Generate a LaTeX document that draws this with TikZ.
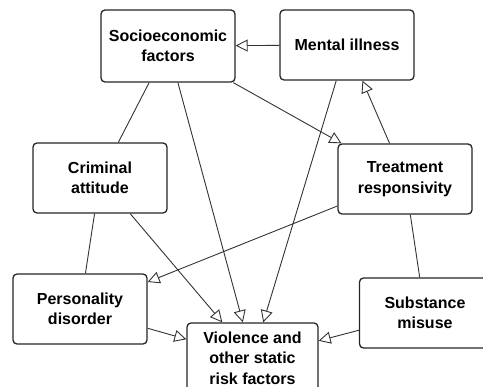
\documentclass[tikz,border=0pt]{standalone}
\usepackage{fontspec}
\setmainfont{Liberation Sans}
\usetikzlibrary{arrows.meta}

\tikzset{
  factor/.style={draw=black!85, line width=1.3pt, rounded corners=4pt, fill=white,
    minimum width=134pt, minimum height=70pt, inner sep=0pt, align=center,
    font=\fontsize{16}{20.5}\selectfont\bfseries},
  link/.style={draw=black!80, line width=0.9pt},
  cause/.style={link, -{Triangle[open, length=12pt, width=12pt, line width=0.9pt]}},
}

\begin{document}
\begin{tikzpicture}[x=1pt, y=-1pt]

\useasboundingbox (0,0) rectangle (483,387);
\clip (0,0) rectangle (483,387);

\node[factor, minimum height=72pt] (Soc) at (168,46) {Socioeconomic\\factors};
\node[factor] (Ment) at (347,45) {Mental illness};
\node[factor] (Crim) at (100,178) {Criminal\\attitude};
\node[factor] (Treat) at (405,179) {Treatment\\responsivity};
\node[factor] (Pers) at (80,309) {Personality\\disorder};
\node[factor, minimum width=131pt] (Subst) at (425,313) {Substance\\misuse};
\node[factor, minimum width=131pt] (Viol) at (252.5,358) {Violence and\\other static\\risk factors};

\draw[cause] (Ment) -- (Soc);
\draw[link] (Soc) -- (Crim);
\draw[cause] (Soc) -- (Viol);
\draw[cause] (Soc) -- (Treat);
\draw[cause] (Ment) -- (Viol);
\draw[cause] (Treat) -- (Ment);
\draw[link] (Crim) -- (Pers);
\draw[cause] (Crim) -- (Viol);
\draw[cause] (Treat) -- (Pers);
\draw[cause] (Pers) -- (Viol);
\draw[cause] (Subst) -- (Viol);
\draw[link] (Subst) -- (Treat);

\end{tikzpicture}
\end{document}
